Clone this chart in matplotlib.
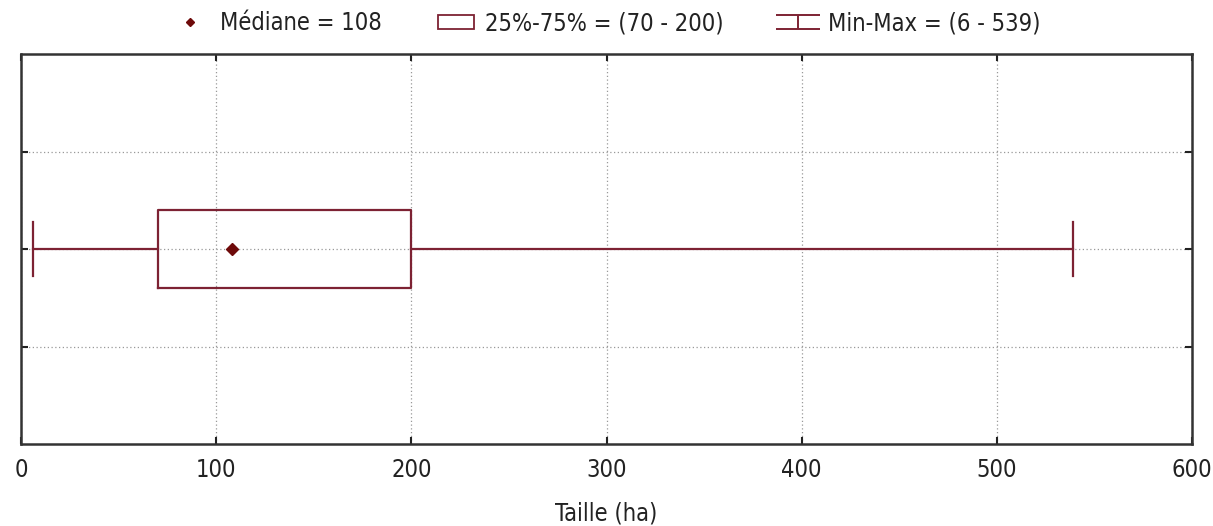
import matplotlib
matplotlib.use("Agg")
import matplotlib.pyplot as plt
from matplotlib.lines import Line2D
from matplotlib.patches import Patch
from matplotlib.path import Path
from matplotlib import font_manager

# summary statistics of plot sizes (ha)
stat_min = 6
stat_q1 = 70
stat_median = 108
stat_q3 = 200
stat_max = 539

x_ticks = [0, 100, 200, 300, 400, 500, 600]
x_label = "Taille (ha)"

box_color = "#7d2233"
median_color = "#6e0a0a"
text_color = "#222222"

# the original uses a tall, narrow sans; pick the narrowest one available
fonts = font_manager.fontManager.ttflist
names = {f.name for f in fonts}
stretch = "normal"
if "Liberation Sans Narrow" in names:
    family, font_size = "Liberation Sans Narrow", 20.5
elif any(f.name == "DejaVu Sans" and f.stretch == "condensed" for f in fonts):
    family, font_size, stretch = "DejaVu Sans", 17, "condensed"
else:
    family, font_size = "Liberation Sans", 16.5
plt.rcParams["font.family"] = [family, "DejaVu Sans"]
plt.rcParams["font.stretch"] = stretch

fig = plt.figure(figsize=(12.13, 5.26), dpi=100)
ax = fig.add_axes([21 / 1213, 1 - 444 / 526, (1192 - 21) / 1213, (444 - 54) / 526])

stats = [{
    "med": stat_median, "q1": stat_q1, "q3": stat_q3,
    "whislo": stat_min, "whishi": stat_max, "mean": stat_median, "fliers": [],
}]
ax.bxp(
    stats, positions=[2], widths=0.8, vert=False, showmeans=True, showfliers=False,
    capwidths=0.56,
    boxprops=dict(color=box_color, linewidth=1.6),
    whiskerprops=dict(color=box_color, linewidth=1.6),
    capprops=dict(color=box_color, linewidth=1.6),
    medianprops=dict(linestyle="none"),
    meanprops=dict(marker="D", markerfacecolor=median_color, markeredgecolor=median_color, markersize=6),
)

ax.set_xlim(0, 600)
ax.set_ylim(0, 4)
ax.set_xticks(x_ticks)
ax.set_yticks([1, 2, 3])
ax.set_yticklabels([])
ax.tick_params(axis="both", direction="in", length=5, width=1.5, color=text_color,
               top=True, right=True, labelsize=font_size, labelcolor=text_color, pad=10)
ax.grid(True, linestyle=(0, (1, 2)), color="#999999", linewidth=0.9)
ax.set_axisbelow(True)
for spine in ax.spines.values():
    spine.set_linewidth(1.8)
    spine.set_color("#333333")
ax.set_xlabel(x_label, fontsize=font_size, color=text_color, labelpad=14)

ibeam = Path([(-1, 0.32), (1, 0.32), (0, 0.32), (0, -0.32), (-1, -0.32), (1, -0.32)],
             [Path.MOVETO, Path.LINETO, Path.MOVETO, Path.LINETO, Path.MOVETO, Path.LINETO])
handles = [
    Line2D([], [], linestyle="none", marker="D", color=median_color, markersize=4),
    Patch(facecolor="white", edgecolor=box_color, linewidth=1.3),
    Line2D([], [], linestyle="none", marker=ibeam, markersize=31, markeredgewidth=1.4,
           markerfacecolor="none", markeredgecolor=box_color),
]
labels = [
    f"Médiane = {stat_median}",
    f"25%-75% = ({stat_q1} - {stat_q3})",
    f"Min-Max = ({stat_min} - {stat_max})",
]
fig.legend(handles, labels, loc="center", bbox_to_anchor=(0.5, 1 - 23 / 526), ncol=3,
           frameon=False, fontsize=font_size, handlelength=1.5, handleheight=0.55,
           handletextpad=0.5, columnspacing=2.4, labelcolor=text_color,
           borderpad=0, borderaxespad=0)

fig.savefig("out.png", dpi=100)
